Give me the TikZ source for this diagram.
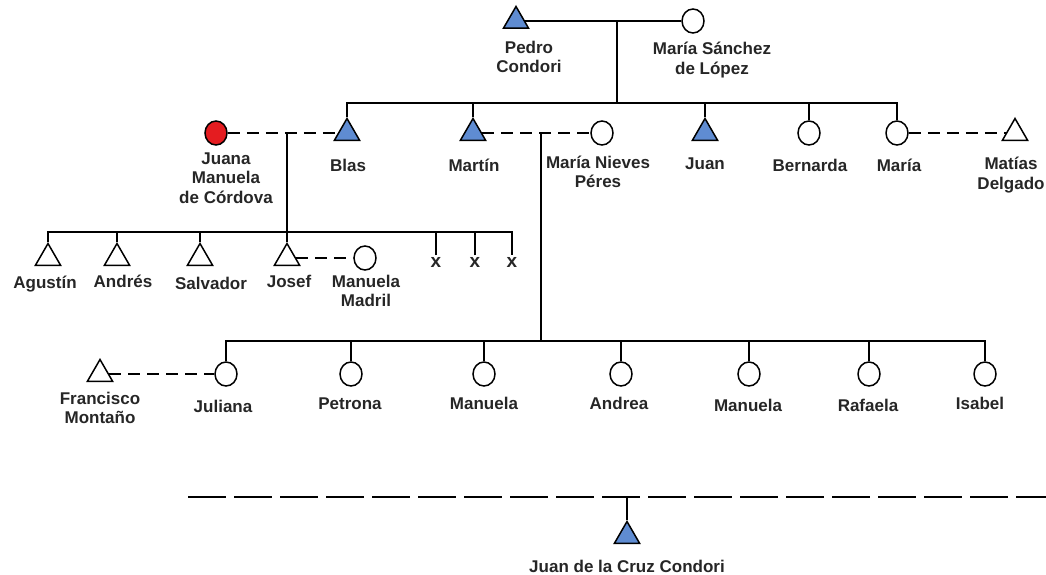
\documentclass[tikz,border=0pt]{standalone}
\usepackage{fontspec}
\setmainfont{Liberation Sans}
\usetikzlibrary{shapes.geometric}
\definecolor{mblue}{RGB}{95,140,210}
\definecolor{fred}{RGB}{228,28,32}
\begin{document}
\begin{tikzpicture}[x=1pt, y=-1pt,
        m/.style={regular polygon, regular polygon sides=3, draw, line width=1.5pt, minimum size=29pt, inner sep=0pt},
        f/.style={ellipse, draw, line width=1.5pt, minimum width=22pt, minimum height=24pt, inner sep=0pt},
        lb/.style={align=center, font=\bfseries\fontsize{17}{19.5}\selectfont, inner sep=1pt, text=black!85},
        xm/.style={font=\bfseries\fontsize{19}{20}\selectfont, inner sep=1.5pt, text=black!85},
        ln/.style={line width=1.5pt},
        mar/.style={line width=1.5pt, dash pattern=on 12pt off 7pt},
        gap/.style={line width=2pt, dash pattern=on 38pt off 8pt}
    ]
    \useasboundingbox (0,0) rectangle (1046,575);
    % generation 1
    \node[m, fill=mblue] (pedro) at (516,21)  {};
    \node[f]             (msl)   at (693,21)  {};
    \node[lb] (pedro-t) at (529,57) {Pedro\\Condori};
    \node[lb] (msl-t)   at (712,60) {María Sánchez\\de López};
    \draw[ln] (pedro) -- (msl);
    \coordinate (pm) at (617,21);
    \coordinate (r1) at (617,103);
    % generation 2
    \node[f, fill=fred]  (juana)    at (216,133) {};
    \node[m, fill=mblue] (blas)     at (347,133) {};
    \node[m, fill=mblue] (martin)   at (473,133) {};
    \node[f]             (mnieves)  at (602,133) {};
    \node[m, fill=mblue] (juan)     at (705,133) {};
    \node[f]             (bernarda) at (809,133) {};
    \node[f]             (maria)    at (897,133) {};
    \node[m]             (matias)   at (1015,133) {};
    \node[lb] (juana-t)    at (226,178) {Juana\\Manuela\\de Córdova};
    \node[lb] (blas-t)     at (348,165) {Blas};
    \node[lb] (martin-t)   at (474,165) {Martín};
    \node[lb] (mnieves-t)  at (598,172) {María Nieves\\Péres};
    \node[lb] (juan-t)     at (705,164) {Juan};
    \node[lb] (bernarda-t) at (810,165) {Bernarda};
    \node[lb] (maria-t)    at (899,165) {María};
    \node[lb] (matias-t)   at (1011,175) {Matías\\Delgado};
    \draw[ln] (pm) -- (r1);
    \draw[ln] (blas.north) |- (r1) -| (maria.north);
    \foreach \n in {martin, juan, bernarda}
        \draw[ln] (\n.north) -- (\n.north |- r1);
    \draw[mar] (juana) -- (blas);
    \draw[mar] (martin) -- (mnieves);
    \draw[mar] (maria) -- (matias);
    \coordinate (jb) at (287,133);
    \coordinate (r2) at (287,232);
    \coordinate (mn) at (541,133);
    \coordinate (r3) at (541,341);
    % children of Blas
    \node[m] (agustin)  at (48,258)  {};
    \node[m] (andres)   at (117,258) {};
    \node[m] (salvador) at (200,258) {};
    \node[m] (josef)    at (287,258) {};
    \node[f] (mmadril)  at (365,258) {};
    \node[xm] (x1) at (436,262) {x};
    \node[xm] (x2) at (475,262) {x};
    \node[xm] (x3) at (512,262) {x};
    \node[lb] (agustin-t)  at (45,284)  {Agustín};
    \node[lb] (andres-t)   at (123,281) {Andrés};
    \node[lb] (salvador-t) at (211,283) {Salvador};
    \node[lb] (josef-t)    at (289,281) {Josef};
    \node[lb] (mmadril-t)  at (366,291) {Manuela\\Madril};
    \draw[ln] (jb) -- (r2);
    \draw[ln] (agustin.north) |- (r2) -| (x3.north);
    \foreach \n in {andres, salvador, josef, x1, x2}
        \draw[ln] (\n.north) -- (\n.north |- r2);
    \draw[mar] (josef) -- (mmadril);
    % children of Martin
    \node[m] (francisco) at (100,374) {};
    \node[f] (juliana)   at (226,374) {};
    \node[f] (petrona)   at (351,374) {};
    \node[f] (manuela1)  at (484,374) {};
    \node[f] (andrea)    at (621,374) {};
    \node[f] (manuela2)  at (749,374) {};
    \node[f] (rafaela)   at (869,374) {};
    \node[f] (isabel)    at (985,374) {};
    \node[lb] (francisco-t) at (100,408) {Francisco\\Montaño};
    \node[lb] (juliana-t)   at (223,406) {Juliana};
    \node[lb] (petrona-t)   at (350,404) {Petrona};
    \node[lb] (manuela1-t)  at (484,403) {Manuela};
    \node[lb] (andrea-t)    at (619,403) {Andrea};
    \node[lb] (manuela2-t)  at (748,405) {Manuela};
    \node[lb] (rafaela-t)   at (868,405) {Rafaela};
    \node[lb] (isabel-t)    at (980,403) {Isabel};
    \draw[ln] (mn) -- (r3);
    \draw[ln] (juliana.north) |- (r3) -| (isabel.north);
    \foreach \n in {petrona, manuela1, andrea, manuela2, rafaela}
        \draw[ln] (\n.north) -- (\n.north |- r3);
    \draw[mar] (francisco) -- (juliana);
    % descendant
    \coordinate (gl) at (188,497);
    \coordinate (gr) at (1046,497);
    \coordinate (gc) at (627,497);
    \node[m, fill=mblue] (cruz) at (627,536) {};
    \node[lb] (cruz-t) at (627,566) {Juan de la Cruz Condori};
    \draw[gap] (gl) -- (gr);
    \draw[ln] (gc) -- (cruz.north);
\end{tikzpicture}
\end{document}
